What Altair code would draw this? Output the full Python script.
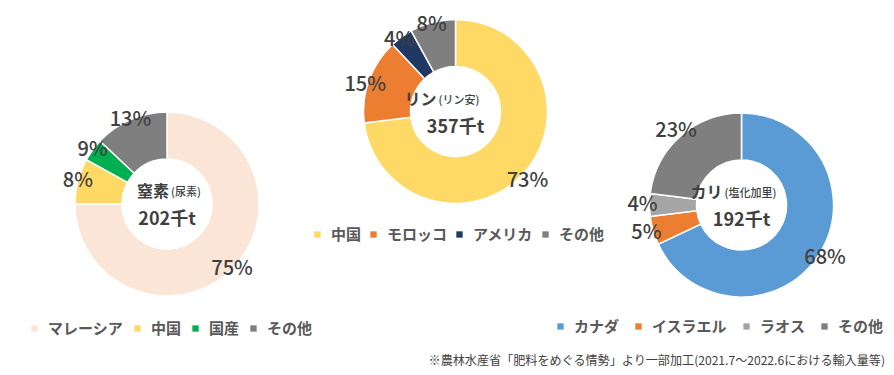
import altair as alt
import pandas as pd

# ---------------- data ----------------
n_cats = ["マレーシア", "中国", "国産", "その他"]
n_vals = [75, 8, 4, 13]
n_labels = ["75%", "8%", "9%", "13%"]
n_colors = ["#FBE5D6", "#FFD966", "#00B050", "#7F7F7F"]

p_cats = ["中国", "モロッコ", "アメリカ", "その他"]
p_vals = [73, 15, 4, 8]
p_labels = ["73%", "15%", "4%", "8%"]
p_colors = ["#FFD966", "#ED7D31", "#203864", "#7F7F7F"]

k_cats = ["カナダ", "イスラエル", "ラオス", "その他"]
k_vals = [68, 5, 4, 23]
k_labels = ["68%", "5%", "4%", "23%"]
k_colors = ["#5B9BD5", "#ED7D31", "#A5A5A5", "#7F7F7F"]

titles = ["窒素", "リン", "カリ"]
subtitles = ["(尿素)", "(リン安)", "(塩化加里)"]
totals = ["202千t", "357千t", "192千t"]
source = "※農林水産省「肥料をめぐる情勢」より一部加工(2021.7～2022.6における輸入量等)"

# ---------------- layout (page pixels converted to chart coords) ----------------
FONT = "Noto Sans CJK JP"
TXT = "#404040"
PAD_TOP = 8
W, H = 878, 359


def X(px):
    return px - 8


def Y(py):
    return py - 8 - PAD_TOP


centers = [(167, 204), (455.5, 111.5), (741.5, 205)]
label_radius = [92, 96, 99]
label_dy = [0, 6, 0]
# (left x, top y, column padding) in page pixels
legend_pos = [(27, 321, 6), (310, 227, 4), (553, 319, 11)]
title_split = [2, -19, -19]

series = [
    (n_cats, n_vals, n_labels, n_colors),
    (p_cats, p_vals, p_labels, p_colors),
    (k_cats, k_vals, k_labels, k_colors),
]

layers = []
for i, (cats, vals, labs, cols) in enumerate(series):
    pcx, pcy = centers[i]
    cx, cy = X(pcx), Y(pcy)
    lx, ly, cpad = legend_pos[i]
    df = pd.DataFrame({"cat": cats, "value": vals, "label": labs, "idx": list(range(len(cats)))})
    base = alt.Chart(df).encode(
        theta=alt.Theta("value:Q", stack=True),
        order=alt.Order("idx:Q"),
        x=alt.value(cx),
        y=alt.value(cy),
    )
    arc = base.mark_arc(innerRadius=45, outerRadius=92, stroke="white", strokeWidth=1.5).encode(
        color=alt.Color(
            "cat:N",
            scale=alt.Scale(domain=cats, range=cols),
            sort=cats,
            legend=alt.Legend(
                orient="none", legendX=X(lx), legendY=Y(ly), direction="horizontal",
                title=None, symbolType="square", symbolSize=40, symbolStrokeWidth=0,
                labelFont=FONT, labelFontSize=15, labelFontWeight="bold",
                labelColor="#595959", columnPadding=cpad, labelOffset=6, padding=0,
                gridAlign="none",
            ),
        )
    )
    text = base.mark_text(radius=label_radius[i], dy=label_dy[i], font=FONT, fontSize=20,
                          fontWeight=500, color=TXT, align="center",
                          baseline="middle").encode(text="label:N")
    layers += [arc, text]

    tdf = pd.DataFrame({"main": [titles[i]], "sub": [subtitles[i]], "total": [totals[i]]})
    tb = alt.Chart(tdf)
    sp = cx + title_split[i]
    layers.append(tb.mark_text(font=FONT, fontSize=16, fontWeight="bold", color=TXT,
                               align="right", baseline="middle").encode(
        text="main:N", x=alt.value(sp), y=alt.value(cy - 12)))
    layers.append(tb.mark_text(font=FONT, fontSize=11, fontWeight=500, color=TXT,
                               align="left", baseline="middle").encode(
        text="sub:N", x=alt.value(sp + 2), y=alt.value(cy - 11)))
    layers.append(tb.mark_text(font=FONT, fontSize=18, fontWeight="bold", color=TXT,
                               align="center", baseline="middle").encode(
        text="total:N", x=alt.value(cx), y=alt.value(cy + 16)))

src = alt.Chart(pd.DataFrame({"s": [source]})).mark_text(
    font=FONT, fontSize=12.1, color=TXT, align="right", baseline="middle"
).encode(text="s:N", x=alt.value(X(885)), y=alt.value(Y(361)))
layers.append(src)

chart = (
    alt.layer(*layers)
    .resolve_scale(theta="independent", color="independent")
    .properties(width=W, height=H,
                padding={"left": 0, "top": PAD_TOP, "right": 0, "bottom": 0},
                autosize=alt.AutoSizeParams(type="none"),
                background="white")
    .configure_view(stroke=None)
)

chart.save("out.html", embed_options={"renderer": "svg", "actions": False})
